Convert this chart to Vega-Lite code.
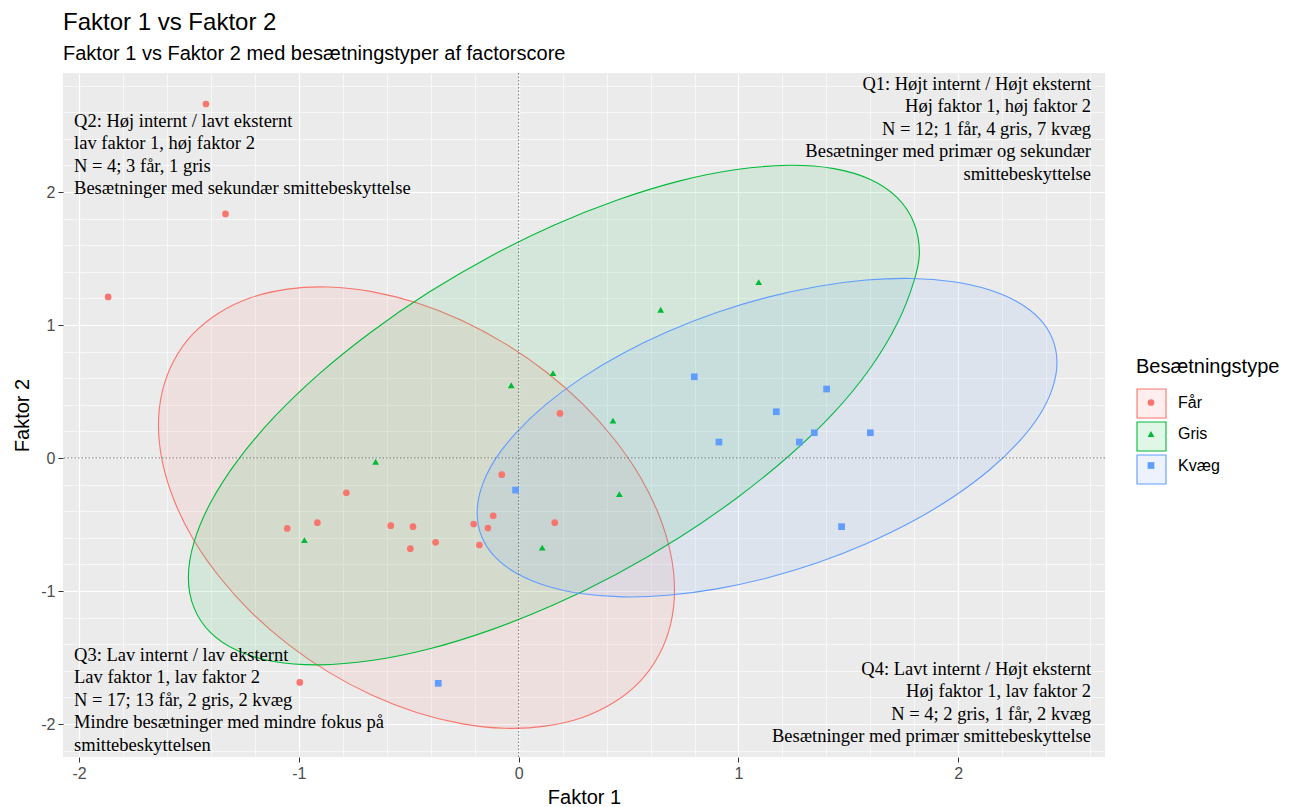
{
  "$schema": "https://vega.github.io/schema/vega-lite/v6.json",
  "autosize": {"type": "none"},
  "width": 1042,
  "height": 684,
  "padding": {"left": 63, "top": 73, "right": 185, "bottom": 50},
  "background": "white",
  "title": {
    "text": "Faktor 1 vs Faktor 2",
    "subtitle": "Faktor 1 vs Faktor 2 med besætningstyper af factorscore",
    "anchor": "start",
    "frame": "group",
    "font": "Liberation Sans",
    "fontSize": 24,
    "fontWeight": "normal",
    "color": "#000000",
    "subtitleFont": "Liberation Sans",
    "subtitleFontSize": 20,
    "subtitleColor": "#000000",
    "subtitlePadding": 9,
    "offset": 9
  },
  "datasets": {
    "points": [
      {"f1": -1.423, "f2": 2.662, "type": "Får"},
      {"f1": -1.334, "f2": 1.835, "type": "Får"},
      {"f1": -1.868, "f2": 1.211, "type": "Får"},
      {"f1": 0.188, "f2": 0.335, "type": "Får"},
      {"f1": -1.053, "f2": -0.529, "type": "Får"},
      {"f1": -0.916, "f2": -0.486, "type": "Får"},
      {"f1": -0.784, "f2": -0.261, "type": "Får"},
      {"f1": -0.582, "f2": -0.509, "type": "Får"},
      {"f1": -0.481, "f2": -0.516, "type": "Får"},
      {"f1": -0.493, "f2": -0.682, "type": "Får"},
      {"f1": -0.378, "f2": -0.634, "type": "Får"},
      {"f1": -0.205, "f2": -0.496, "type": "Får"},
      {"f1": -0.179, "f2": -0.654, "type": "Får"},
      {"f1": -0.140, "f2": -0.526, "type": "Får"},
      {"f1": -0.116, "f2": -0.434, "type": "Får"},
      {"f1": -0.077, "f2": -0.125, "type": "Får"},
      {"f1": 0.164, "f2": -0.486, "type": "Får"},
      {"f1": -0.996, "f2": -1.687, "type": "Får"},
      {"f1": -0.651, "f2": -0.028, "type": "Gris"},
      {"f1": -0.975, "f2": -0.617, "type": "Gris"},
      {"f1": -0.034, "f2": 0.547, "type": "Gris"},
      {"f1": 0.156, "f2": 0.639, "type": "Gris"},
      {"f1": 0.429, "f2": 0.281, "type": "Gris"},
      {"f1": 0.458, "f2": -0.271, "type": "Gris"},
      {"f1": 0.107, "f2": -0.674, "type": "Gris"},
      {"f1": 0.646, "f2": 1.115, "type": "Gris"},
      {"f1": 1.092, "f2": 1.323, "type": "Gris"},
      {"f1": -0.014, "f2": -0.241, "type": "Kvæg"},
      {"f1": 0.799, "f2": 0.611, "type": "Kvæg"},
      {"f1": 0.911, "f2": 0.120, "type": "Kvæg"},
      {"f1": 1.172, "f2": 0.348, "type": "Kvæg"},
      {"f1": 1.277, "f2": 0.120, "type": "Kvæg"},
      {"f1": 1.345, "f2": 0.190, "type": "Kvæg"},
      {"f1": 1.401, "f2": 0.519, "type": "Kvæg"},
      {"f1": 1.600, "f2": 0.190, "type": "Kvæg"},
      {"f1": 1.469, "f2": -0.516, "type": "Kvæg"},
      {"f1": -0.366, "f2": -1.694, "type": "Kvæg"}
    ],
    "ellipses": [
      {"grp": "Får", "i": 0, "f1": 0.709, "f2": -0.992},
      {"grp": "Får", "i": 1, "f1": 0.691, "f2": -0.715},
      {"grp": "Får", "i": 2, "f1": 0.638, "f2": -0.428},
      {"grp": "Får", "i": 3, "f1": 0.552, "f2": -0.139},
      {"grp": "Får", "i": 4, "f1": 0.434, "f2": 0.143},
      {"grp": "Får", "i": 5, "f1": 0.290, "f2": 0.409},
      {"grp": "Får", "i": 6, "f1": 0.122, "f2": 0.651},
      {"grp": "Får", "i": 7, "f1": -0.064, "f2": 0.862},
      {"grp": "Får", "i": 8, "f1": -0.261, "f2": 1.036},
      {"grp": "Får", "i": 9, "f1": -0.465, "f2": 1.167},
      {"grp": "Får", "i": 10, "f1": -0.669, "f2": 1.251},
      {"grp": "Får", "i": 11, "f1": -0.867, "f2": 1.286},
      {"grp": "Får", "i": 12, "f1": -1.052, "f2": 1.270},
      {"grp": "Får", "i": 13, "f1": -1.220, "f2": 1.205},
      {"grp": "Får", "i": 14, "f1": -1.364, "f2": 1.091},
      {"grp": "Får", "i": 15, "f1": -1.482, "f2": 0.933},
      {"grp": "Får", "i": 16, "f1": -1.568, "f2": 0.735},
      {"grp": "Får", "i": 17, "f1": -1.621, "f2": 0.504},
      {"grp": "Får", "i": 18, "f1": -1.639, "f2": 0.246},
      {"grp": "Får", "i": 19, "f1": -1.621, "f2": -0.031},
      {"grp": "Får", "i": 20, "f1": -1.568, "f2": -0.318},
      {"grp": "Får", "i": 21, "f1": -1.482, "f2": -0.607},
      {"grp": "Får", "i": 22, "f1": -1.364, "f2": -0.889},
      {"grp": "Får", "i": 23, "f1": -1.220, "f2": -1.155},
      {"grp": "Får", "i": 24, "f1": -1.052, "f2": -1.397},
      {"grp": "Får", "i": 25, "f1": -0.867, "f2": -1.608},
      {"grp": "Får", "i": 26, "f1": -0.669, "f2": -1.782},
      {"grp": "Får", "i": 27, "f1": -0.465, "f2": -1.913},
      {"grp": "Får", "i": 28, "f1": -0.261, "f2": -1.997},
      {"grp": "Får", "i": 29, "f1": -0.064, "f2": -2.032},
      {"grp": "Får", "i": 30, "f1": 0.122, "f2": -2.016},
      {"grp": "Får", "i": 31, "f1": 0.290, "f2": -1.951},
      {"grp": "Får", "i": 32, "f1": 0.434, "f2": -1.837},
      {"grp": "Får", "i": 33, "f1": 0.552, "f2": -1.679},
      {"grp": "Får", "i": 34, "f1": 0.638, "f2": -1.481},
      {"grp": "Får", "i": 35, "f1": 0.691, "f2": -1.250},
      {"grp": "Gris", "i": 0, "f1": 1.823, "f2": 1.544},
      {"grp": "Gris", "i": 1, "f1": 1.797, "f2": 1.773},
      {"grp": "Gris", "i": 2, "f1": 1.722, "f2": 1.958},
      {"grp": "Gris", "i": 3, "f1": 1.600, "f2": 2.094},
      {"grp": "Gris", "i": 4, "f1": 1.434, "f2": 2.176},
      {"grp": "Gris", "i": 5, "f1": 1.229, "f2": 2.201},
      {"grp": "Gris", "i": 6, "f1": 0.991, "f2": 2.169},
      {"grp": "Gris", "i": 7, "f1": 0.729, "f2": 2.082},
      {"grp": "Gris", "i": 8, "f1": 0.449, "f2": 1.940},
      {"grp": "Gris", "i": 9, "f1": 0.160, "f2": 1.750},
      {"grp": "Gris", "i": 10, "f1": -0.129, "f2": 1.516},
      {"grp": "Gris", "i": 11, "f1": -0.409, "f2": 1.246},
      {"grp": "Gris", "i": 12, "f1": -0.671, "f2": 0.948},
      {"grp": "Gris", "i": 13, "f1": -0.909, "f2": 0.631},
      {"grp": "Gris", "i": 14, "f1": -1.114, "f2": 0.305},
      {"grp": "Gris", "i": 15, "f1": -1.280, "f2": -0.021},
      {"grp": "Gris", "i": 16, "f1": -1.402, "f2": -0.336},
      {"grp": "Gris", "i": 17, "f1": -1.477, "f2": -0.632},
      {"grp": "Gris", "i": 18, "f1": -1.503, "f2": -0.898},
      {"grp": "Gris", "i": 19, "f1": -1.477, "f2": -1.127},
      {"grp": "Gris", "i": 20, "f1": -1.402, "f2": -1.313},
      {"grp": "Gris", "i": 21, "f1": -1.280, "f2": -1.448},
      {"grp": "Gris", "i": 22, "f1": -1.114, "f2": -1.530},
      {"grp": "Gris", "i": 23, "f1": -0.909, "f2": -1.555},
      {"grp": "Gris", "i": 24, "f1": -0.671, "f2": -1.523},
      {"grp": "Gris", "i": 25, "f1": -0.409, "f2": -1.436},
      {"grp": "Gris", "i": 26, "f1": -0.129, "f2": -1.294},
      {"grp": "Gris", "i": 27, "f1": 0.160, "f2": -1.104},
      {"grp": "Gris", "i": 28, "f1": 0.449, "f2": -0.870},
      {"grp": "Gris", "i": 29, "f1": 0.729, "f2": -0.600},
      {"grp": "Gris", "i": 30, "f1": 0.991, "f2": -0.302},
      {"grp": "Gris", "i": 31, "f1": 1.229, "f2": 0.015},
      {"grp": "Gris", "i": 32, "f1": 1.434, "f2": 0.341},
      {"grp": "Gris", "i": 33, "f1": 1.600, "f2": 0.677},
      {"grp": "Gris", "i": 34, "f1": 1.722, "f2": 1.011},
      {"grp": "Gris", "i": 35, "f1": 1.797, "f2": 1.323},
      {"grp": "Kvæg", "i": 0, "f1": 2.449, "f2": 0.719},
      {"grp": "Kvæg", "i": 1, "f1": 2.429, "f2": 0.894},
      {"grp": "Kvæg", "i": 2, "f1": 2.370, "f2": 1.046},
      {"grp": "Kvæg", "i": 3, "f1": 2.272, "f2": 1.171},
      {"grp": "Kvæg", "i": 4, "f1": 2.140, "f2": 1.265},
      {"grp": "Kvæg", "i": 5, "f1": 1.978, "f2": 1.325},
      {"grp": "Kvæg", "i": 6, "f1": 1.790, "f2": 1.350},
      {"grp": "Kvæg", "i": 7, "f1": 1.581, "f2": 1.338},
      {"grp": "Kvæg", "i": 8, "f1": 1.359, "f2": 1.290},
      {"grp": "Kvæg", "i": 9, "f1": 1.130, "f2": 1.208},
      {"grp": "Kvæg", "i": 10, "f1": 0.901, "f2": 1.094},
      {"grp": "Kvæg", "i": 11, "f1": 0.679, "f2": 0.951},
      {"grp": "Kvæg", "i": 12, "f1": 0.471, "f2": 0.784},
      {"grp": "Kvæg", "i": 13, "f1": 0.282, "f2": 0.597},
      {"grp": "Kvæg", "i": 14, "f1": 0.120, "f2": 0.398},
      {"grp": "Kvæg", "i": 15, "f1": -0.012, "f2": 0.190},
      {"grp": "Kvæg", "i": 16, "f1": -0.110, "f2": -0.018},
      {"grp": "Kvæg", "i": 17, "f1": -0.169, "f2": -0.221},
      {"grp": "Kvæg", "i": 18, "f1": -0.189, "f2": -0.413},
      {"grp": "Kvæg", "i": 19, "f1": -0.169, "f2": -0.588},
      {"grp": "Kvæg", "i": 20, "f1": -0.110, "f2": -0.740},
      {"grp": "Kvæg", "i": 21, "f1": -0.012, "f2": -0.865},
      {"grp": "Kvæg", "i": 22, "f1": 0.120, "f2": -0.959},
      {"grp": "Kvæg", "i": 23, "f1": 0.282, "f2": -1.019},
      {"grp": "Kvæg", "i": 24, "f1": 0.471, "f2": -1.044},
      {"grp": "Kvæg", "i": 25, "f1": 0.679, "f2": -1.032},
      {"grp": "Kvæg", "i": 26, "f1": 0.901, "f2": -0.984},
      {"grp": "Kvæg", "i": 27, "f1": 1.130, "f2": -0.902},
      {"grp": "Kvæg", "i": 28, "f1": 1.359, "f2": -0.788},
      {"grp": "Kvæg", "i": 29, "f1": 1.581, "f2": -0.645},
      {"grp": "Kvæg", "i": 30, "f1": 1.790, "f2": -0.478},
      {"grp": "Kvæg", "i": 31, "f1": 1.978, "f2": -0.291},
      {"grp": "Kvæg", "i": 32, "f1": 2.140, "f2": -0.092},
      {"grp": "Kvæg", "i": 33, "f1": 2.272, "f2": 0.116},
      {"grp": "Kvæg", "i": 34, "f1": 2.370, "f2": 0.324},
      {"grp": "Kvæg", "i": 35, "f1": 2.429, "f2": 0.528}
    ],
    "zero": [{"v": 0}],
    "notesLeft": [
      {"f1": -2.023, "f2": 2.602, "label": "Q2: Høj internt / lavt eksternt\nlav faktor 1, høj faktor 2\nN = 4; 3 får, 1 gris\nBesætninger med sekundær smittebeskyttelse"},
      {"f1": -2.023, "f2": -1.414, "label": "Q3: Lav internt / lav eksternt\nLav faktor 1, lav faktor 2\nN = 17; 13 får, 2 gris, 2 kvæg\nMindre besætninger med mindre fokus på\nsmittebeskyttelsen"}
    ],
    "notesRight": [
      {"f1": 2.604, "f2": 2.880, "label": "Q1: Højt internt / Højt eksternt\nHøj faktor 1, høj faktor 2\nN = 12; 1 får, 4 gris, 7 kvæg\nBesætninger med  primær og sekundær\nsmittebeskyttelse"},
      {"f1": 2.604, "f2": -1.519, "label": "Q4: Lavt internt / Højt eksternt\nHøj faktor 1, lav faktor 2\nN = 4; 2 gris, 1 får, 2 kvæg\nBesætninger med primær smittebeskyttelse"}
    ]
  },
  "layer": [
    {
      "data": {"name": "ellipses"},
      "mark": {"type": "line", "interpolate": "cardinal-closed", "strokeWidth": 1.1, "fillOpacity": 0.1},
      "encoding": {
        "x": {"field": "f1", "type": "quantitative", "title": "Faktor 1", "scale": {"domain": [-2.0733, 2.6675], "nice": false, "zero": false}},
        "y": {"field": "f2", "type": "quantitative", "title": "Faktor 2", "scale": {"domain": [-2.248, 2.895], "nice": false, "zero": false}},
        "order": {"field": "i", "type": "quantitative"},
        "stroke": {"field": "grp", "type": "nominal", "title": "Besætningstype",
          "scale": {"domain": ["Kvæg", "Gris", "Får"], "range": ["#619CFF", "#00BA38", "#F8766D"]},
          "legend": {
            "orient": "none", "legendX": 1073, "legendY": 284, "padding": 0,
            "symbolType": "square", "symbolSize": 841, "symbolStrokeWidth": 1.1,
            "symbolOffset": 0, "rowPadding": -4.5, "titlePadding": 11,
            "titleOpacity": 0, "labelExpr": "''", "labelOffset": 0,
            "values": ["Får", "Gris", "Kvæg"],
            "encode": {"symbols": {"update": {"fillOpacity": {"value": 0.12}, "strokeOpacity": {"value": 1}}}}
          }},
        "fill": {"field": "grp", "type": "nominal", "title": "Besætningstype",
          "scale": {"domain": ["Kvæg", "Gris", "Får"], "range": ["#619CFF", "#00BA38", "#F8766D"]},
          "legend": {
            "orient": "none", "legendX": 1073, "legendY": 284, "padding": 0,
            "symbolType": "square", "symbolSize": 841, "symbolStrokeWidth": 1.1,
            "symbolOffset": 0, "rowPadding": -4.5, "titlePadding": 11,
            "titleOpacity": 0, "labelExpr": "''", "labelOffset": 0,
            "values": ["Får", "Gris", "Kvæg"],
            "encode": {"symbols": {"update": {"fillOpacity": {"value": 0.12}, "strokeOpacity": {"value": 1}}}}
          }}
      }
    },
    {
      "data": {"name": "zero"},
      "mark": {"type": "rule", "color": "#555555", "strokeWidth": 0.8, "strokeDash": [1.5, 2]},
      "encoding": {"y": {"field": "v", "type": "quantitative", "title": "Faktor 2", "scale": {"domain": [-2.248, 2.895], "nice": false, "zero": false}}}
    },
    {
      "data": {"name": "zero"},
      "mark": {"type": "rule", "color": "#555555", "strokeWidth": 0.8, "strokeDash": [1.5, 2]},
      "encoding": {"x": {"field": "v", "type": "quantitative", "title": "Faktor 1", "scale": {"domain": [-2.0733, 2.6675], "nice": false, "zero": false}}}
    },
    {
      "data": {"name": "points"},
      "mark": {"type": "point", "filled": true, "size": 45, "opacity": 1},
      "encoding": {
        "x": {"field": "f1", "type": "quantitative", "title": "Faktor 1", "scale": {"domain": [-2.0733, 2.6675], "nice": false, "zero": false}},
        "y": {"field": "f2", "type": "quantitative", "title": "Faktor 2", "scale": {"domain": [-2.248, 2.895], "nice": false, "zero": false}},
        "color": {"field": "type", "type": "nominal", "title": "Besætningstype",
          "scale": {"domain": ["Får", "Gris", "Kvæg"], "range": ["#F8766D", "#00BA38", "#619CFF"]},
          "legend": {"orient": "none", "legendX": 1073, "legendY": 284, "padding": 0,
            "symbolSize": 45, "symbolOffset": 7, "rowPadding": 15.5, "titlePadding": 17.5, "labelOffset": 19}},
        "shape": {"field": "type", "type": "nominal", "title": "Besætningstype",
          "scale": {"domain": ["Får", "Gris", "Kvæg"], "range": ["circle", "triangle-up", "square"]},
          "legend": {"orient": "none", "legendX": 1073, "legendY": 284, "padding": 0,
            "symbolSize": 45, "symbolOffset": 7, "rowPadding": 15.5, "titlePadding": 17.5, "labelOffset": 19}}
      }
    },
    {
      "data": {"name": "notesLeft"},
      "mark": {"type": "text", "align": "left", "baseline": "top", "font": "Liberation Serif", "fontSize": 18.5, "lineHeight": 22.4, "lineBreak": "\n", "color": "#000000"},
      "encoding": {
        "x": {"field": "f1", "type": "quantitative", "title": "Faktor 1", "scale": {"domain": [-2.0733, 2.6675], "nice": false, "zero": false}},
        "y": {"field": "f2", "type": "quantitative", "title": "Faktor 2", "scale": {"domain": [-2.248, 2.895], "nice": false, "zero": false}},
        "text": {"field": "label"}
      }
    },
    {
      "data": {"name": "notesRight"},
      "mark": {"type": "text", "align": "right", "baseline": "top", "font": "Liberation Serif", "fontSize": 18.5, "lineHeight": 22.4, "lineBreak": "\n", "color": "#000000"},
      "encoding": {
        "x": {"field": "f1", "type": "quantitative", "title": "Faktor 1", "scale": {"domain": [-2.0733, 2.6675], "nice": false, "zero": false}},
        "y": {"field": "f2", "type": "quantitative", "title": "Faktor 2", "scale": {"domain": [-2.248, 2.895], "nice": false, "zero": false}},
        "text": {"field": "label"}
      }
    }
  ],
  "config": {
    "view": {"fill": "#EBEBEB", "stroke": null},
    "axis": {
      "domain": false,
      "grid": true,
      "gridColor": "#FFFFFF",
      "labelFont": "Liberation Sans",
      "labelFontSize": 16,
      "labelColor": "#4D4D4D",
      "tickColor": "#333333",
      "titleFont": "Liberation Sans",
      "titleFontSize": 20,
      "titleFontWeight": "normal",
      "titleColor": "#000000"
    },
    "axisX": {
      "values": [-2, -1.5, -1, -0.5, 0, 0.5, 1, 1.5, 2, 2.5],
      "labelExpr": "datum.value % 1 === 0 ? toString(datum.value) : ''",
      "gridWidth": {"condition": {"test": "datum.value % 1 !== 0", "value": 0.6}, "value": 1.2},
      "tickOpacity": {"condition": {"test": "datum.value % 1 !== 0", "value": 0}, "value": 1},
      "tickSize": 5,
      "labelPadding": 3,
      "titlePadding": 6
    },
    "axisY": {
      "values": [-2, -1.5, -1, -0.5, 0, 0.5, 1, 1.5, 2, 2.5],
      "labelExpr": "datum.value % 1 === 0 ? toString(datum.value) : ''",
      "gridWidth": {"condition": {"test": "datum.value % 1 !== 0", "value": 0.6}, "value": 1.2},
      "tickOpacity": {"condition": {"test": "datum.value % 1 !== 0", "value": 0}, "value": 1},
      "tickSize": 5,
      "labelPadding": 3,
      "titlePadding": 8
    },
    "legend": {
      "titleFont": "Liberation Sans",
      "titleFontSize": 20,
      "titleFontWeight": "normal",
      "titleColor": "#000000",
      "labelFont": "Liberation Sans",
      "labelFontSize": 16,
      "labelColor": "#000000"
    }
  }
}
